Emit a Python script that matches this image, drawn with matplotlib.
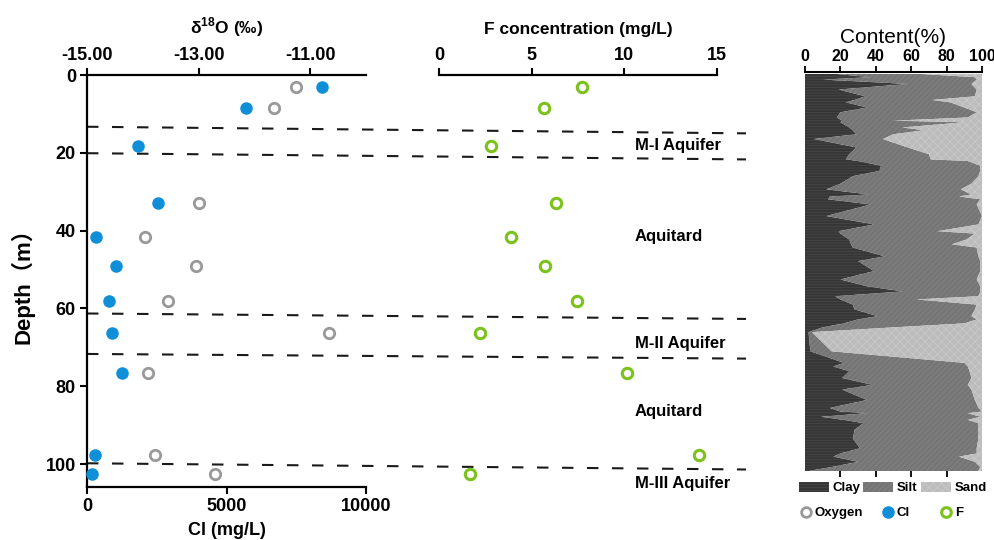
import numpy as np
import matplotlib
matplotlib.use("Agg")
import matplotlib.pyplot as plt
from matplotlib.lines import Line2D
from matplotlib.patches import Patch

# sample depths (m) and measured values
sample_depth = [3.0, 8.4, 18.2, 33.0, 41.6, 49.0, 58.0, 66.3, 76.7, 97.7, 102.5]
cl_mgl = [8420, 5690, 1830, 2530, 312, 1055, 780, 900, 1250, 300, 195]
d18o = [-11.25, -11.65, np.nan, -12.99, -13.96, -13.05, -13.55, -10.67, -13.91, -13.79, -12.70]
f_mgl = [7.71, 5.64, 2.79, 6.32, 3.91, 5.70, 7.42, 2.20, 10.14, 14.05, 1.67]

# layer boundaries (dashed lines, slightly tilted: depth at left / right end)
bound_left = [13.3, 20.1, 61.3, 71.7, 99.8]
bound_right = [15.0, 21.7, 62.7, 72.9, 101.4]
layer_names = ["M-I Aquifer", "Aquitard", "M-II Aquifer", "Aquitard", "M-III Aquifer"]
layer_depth = [18.0, 41.4, 68.9, 86.4, 105.1]

# grain size profile (%)
grain_depth = [0.5, 1.3, 1.9, 3.0, 4.4, 6.1, 7.0, 7.6, 8.9, 10.1, 11.4, 12.2, 12.6, 13.9,
               14.6, 15.6, 16.8, 18.9, 20.6, 21.9, 22.3, 23.5, 24.8, 26.1, 28.0, 29.4,
               30.7, 31.2, 31.9, 33.2, 36.1, 38.2, 39.9, 40.5, 42.0, 43.2, 44.0, 46.2,
               47.4, 49.9, 52.0, 53.7, 55.0, 56.2, 57.0, 58.3, 59.5, 61.2, 62.0, 63.0,
               64.0, 65.2, 70.0, 72.9, 73.8, 75.0, 76.7, 78.4, 79.6, 82.2, 84.2, 85.1,
               85.5, 86.4, 87.2, 88.0, 89.7, 91.8, 94.3, 95.6, 96.4, 97.7, 99.0, 100.0]
clay = [18, 37, 10, 58, 19, 34, 28, 23, 35, 20, 18, 21, 20, 25,
        27, 29, 5, 29, 25, 23, 30, 43, 42, 27, 20, 12,
        36, 14, 13, 37, 12, 39, 19, 20, 25, 26, 27, 45,
        30, 39, 20, 35, 55, 17, 20, 27, 28, 41, 30, 22,
        10, 2, 3, 22, 16, 25, 21, 38, 21, 35, 14, 20,
        35, 9, 22, 33, 28, 27, 31, 20, 16, 30, 15, 2]
silt = [48, 59, 87, 36, 78, 62, 44, 59, 55, 77, 74, 29, 70, 30,
        40, 21, 39, 29, 45, 48, 62, 56, 57, 71, 74, 76,
        58, 73, 86, 60, 88, 59, 56, 76, 66, 57, 70, 53,
        69, 60, 77, 64, 44, 81, 43, 70, 68, 53, 67, 68,
        40, 2, 12, 68, 76, 68, 73, 54, 73, 61, 84, 80,
        57, 90, 70, 65, 70, 71, 66, 77, 71, 66, 84, 96]

plt.rcParams["font.family"] = ["Liberation Sans", "Noto Sans CJK SC", "DejaVu Sans"]
plt.rcParams["font.weight"] = "bold"
plt.rcParams["axes.labelweight"] = "bold"
plt.rcParams["mathtext.fontset"] = "custom"
plt.rcParams["mathtext.bf"] = "Liberation Sans:bold"
plt.rcParams["mathtext.rm"] = "Liberation Sans:bold"
plt.rcParams["hatch.linewidth"] = 0.5

W, H = 995, 540
fig = plt.figure(figsize=(W / 100, H / 100), dpi=100)


def px_axes(l, t, r, b):
    return fig.add_axes([l / W, 1 - b / H, (r - l) / W, (b - t) / H])


blue = "#0e8fd8"
grey = "#999999"
green = "#7cc21c"
depth_lim = (105.9, 0)

# ---- Cl axis (bottom) + depth
ax = px_axes(87, 75, 366, 487)
ax.set_xlim(0, 10000)
ax.set_ylim(*depth_lim)
for s in ["top", "right"]:
    ax.spines[s].set_visible(False)
for s in ["left", "bottom"]:
    ax.spines[s].set_linewidth(1.6)
ax.set_xticks([0, 5000, 10000])
ax.set_yticks([0, 20, 40, 60, 80, 100])
ax.tick_params(direction="out", length=5, width=1.5, labelsize=13, pad=3)
ax.set_xlabel("Cl (mg/L)", fontsize=13, labelpad=5)
ax.set_ylabel("Depth（m）", fontsize=16, labelpad=8)

# ---- d18O axis (top of same panel)
ax_o = ax.twiny()
ax_o.set_xlim(-15, -10)
for s in ["left", "right", "bottom"]:
    ax_o.spines[s].set_visible(False)
ax_o.spines["top"].set_linewidth(1.6)
ax_o.set_xticks([-15, -13, -11])
ax_o.set_xticklabels([f"{v:.2f}" for v in [-15, -13, -11]])
ax_o.tick_params(direction="out", length=5, width=1.5, labelsize=13, pad=3)
ax_o.set_xlabel(r"δ$^{\mathbf{18}}$O (‰)", fontsize=12.5, labelpad=10)

# ---- F axis
ax_f = px_axes(439, 75, 717, 487)
ax_f.set_xlim(0, 15)
ax_f.set_ylim(*depth_lim)
ax_f.patch.set_alpha(0)
for s in ["left", "right", "bottom"]:
    ax_f.spines[s].set_visible(False)
ax_f.spines["top"].set_linewidth(1.6)
ax_f.xaxis.set_ticks_position("top")
ax_f.xaxis.set_label_position("top")
ax_f.set_xticks([0, 5, 10, 15])
ax_f.set_yticks([])
ax_f.tick_params(direction="out", length=5, width=1.5, labelsize=13, pad=3)
ax_f.set_xlabel("F concentration (mg/L)", fontsize=12.5, labelpad=9)

# dashed layer boundaries, running across both panels
x_end = 10000 * (746 - 87) / (366 - 87)
for dl, dr in zip(bound_left, bound_right):
    ln, = ax.plot([0, x_end], [dl, dr], color="#1a1a1a", lw=1.5, clip_on=False, zorder=1)
    ln.set_dashes((5.5, 6.5))

x_lab = 10000 * (635 - 87) / (366 - 87)
for name, d in zip(layer_names, layer_depth):
    ax.text(x_lab, d, name, fontsize=12, va="center", ha="left", clip_on=False)

ax.plot(cl_mgl, sample_depth, "o", color=blue, ms=8, mec=blue, clip_on=False, zorder=3)
ax_o.plot(d18o, sample_depth, "o", mfc="white", mec=grey, mew=2.0, ms=7.5, clip_on=False, zorder=3)
ax_f.plot(f_mgl, sample_depth, "o", mfc="white", mec=green, mew=2.2, ms=7.5, clip_on=False, zorder=3)

# ---- grain size panel
clay = np.array(clay, dtype=float)
silt = np.array(silt, dtype=float)
clay_c, silt_c, sand_c = "#363636", "#7b7b7b", "#bcbcbc"
ax3 = px_axes(805, 72, 982, 471)
ax3.set_xlim(0, 100)
ax3.set_ylim(100, 0)
ax3.fill_betweenx(grain_depth, 0, clay, facecolor=clay_c, edgecolor="#4a4a4a",
                  hatch="------", lw=0)
ax3.fill_betweenx(grain_depth, clay, clay + silt, facecolor=silt_c, edgecolor="#6c6c6c",
                  hatch="//////", lw=0)
ax3.fill_betweenx(grain_depth, clay + silt, 100, facecolor=sand_c, edgecolor="#cbcbcb",
                  hatch="xxxx", lw=0)
for s in ["left", "right", "bottom"]:
    ax3.spines[s].set_visible(False)
ax3.spines["top"].set_linewidth(1.5)
ax3.xaxis.set_ticks_position("top")
ax3.xaxis.set_label_position("top")
ax3.set_xticks([0, 20, 40, 60, 80, 100])
ax3.set_yticks([])
ax3.tick_params(direction="out", length=4, width=1.3, labelsize=11.5, pad=2)
ax3.set_xlabel("Content(%)", fontsize=15, fontweight="normal", labelpad=4)
sec = ax3.secondary_xaxis("bottom")
sec.set_xticks([20, 40, 60, 80])
sec.set_xticklabels([])
sec.spines["bottom"].set_visible(False)
sec.tick_params(direction="out", length=4, width=1.3)


# ---- keys
def add_key(handle, label, x, y, hl, hh=0.7, pad=0.3):
    fig.legend(handles=[handle], labels=[label], loc="center left",
               bbox_to_anchor=(x / W, 1 - y / H), frameon=False, fontsize=9.5,
               handlelength=hl, handleheight=hh, handletextpad=pad,
               borderpad=0, borderaxespad=0)


add_key(Patch(facecolor=clay_c, edgecolor="#4a4a4a", hatch="------", lw=0), "Clay", 799, 488, 2.27, 0.83)
add_key(Patch(facecolor=silt_c, edgecolor="#6c6c6c", hatch="//////", lw=0), "Silt", 863, 488, 2.27, 0.83)
add_key(Patch(facecolor=sand_c, edgecolor="#cbcbcb", hatch="xxxx", lw=0), "Sand", 921, 488, 2.27, 0.83)
add_key(Line2D([], [], marker="o", ls="none", mfc="white", mec=grey, mew=2.0, ms=7), "Oxygen", 801, 513, 0.8, pad=0.25)
add_key(Line2D([], [], marker="o", ls="none", color=blue, ms=8), "Cl", 883, 513, 0.8, pad=0.25)
add_key(Line2D([], [], marker="o", ls="none", mfc="white", mec=green, mew=2.2, ms=7), "F", 941, 513, 0.8, pad=0.25)

fig.savefig("out.png", dpi=100)
